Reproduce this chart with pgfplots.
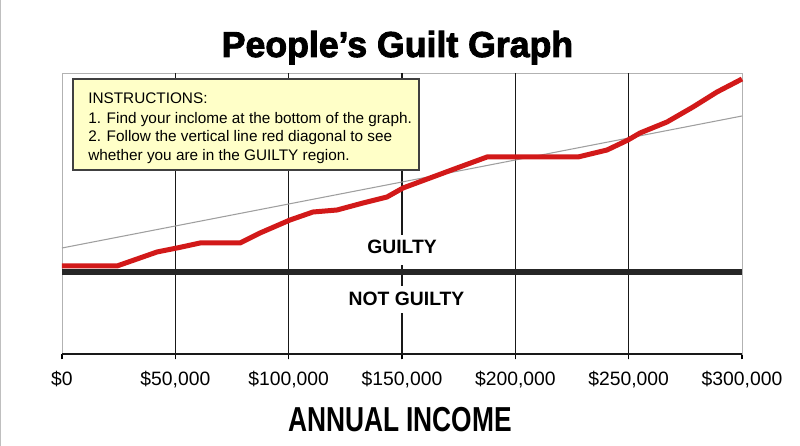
\documentclass[border=0pt]{standalone}
\usepackage{fontspec}
\setmainfont{Liberation Sans}
\newfontfamily\titlefont[FakeBold=2.5]{Liberation Sans Bold}
\usepackage{pgfplots}
\pgfplotsset{compat=1.18}
\definecolor{redline}{RGB}{210,25,25}
\definecolor{boxfill}{RGB}{255,255,200}
\begin{document}
\begin{tikzpicture}
\path[use as bounding box] (-46.5pt,-69pt) rectangle (553.5pt,265.5pt);
\draw[gray!50, line width=0.8pt] (-46.1pt,-69pt) -- (-46.1pt,265.5pt);
\begin{axis}[
  scale only axis, width=510pt, height=210.75pt,
  xmin=0, xmax=300000, ymin=92, ymax=373,
  axis line style={draw=gray!60, line width=0.7pt},
  xtick={0,50000,100000,150000,200000,250000,300000},
  xticklabels={\$0,{\$50,000},{\$100,000},{\$150,000},{\$200,000},{\$250,000},{\$300,000}},
  ytick=\empty,
  scaled x ticks=false,
  tick align=outside, xtick pos=left,
  major tick length=4pt,
  tick style={black, line width=0.9pt},
  extra x ticks={50000,100000,150000,200000,250000},
  extra x tick labels={},
  extra x tick style={grid=major},
  major grid style={black!90, line width=1.1pt},
  xticklabel style={font=\fontsize{14.5}{16}\selectfont, anchor=base, yshift=-20pt},
  clip=false,
]
\draw[black!90, line width=1.2pt] (axis cs:0,92) -- (axis cs:300000,92);
\addplot[gray!75, line width=0.8pt] coordinates {(0,198) (300000,330)};
\addplot[black!85, line width=4.5pt] coordinates {(0,173.5) (300000,173.5)};
\addplot[redline, line width=3.75pt] coordinates {
(0,180) (24265,180) (41912,194) (50735,198) (60882,203) (78529,203)
(87353,213) (100588,226) (110735,234) (121324,236) (132794,243)
(143382,249) (150441,258) (162353,268) (174265,278) (187500,289)
(227647,289) (240441,296) (249706,306) (255000,313) (266912,324)
(278382,339) (288971,354) (300000,367)};
\node[anchor=base, fill=white, inner xsep=2pt, inner ysep=3.75pt, text depth=4.5pt,
  font=\bfseries\fontsize{14.5}{16}\selectfont] at (axis cs:150000,192) {GUILTY};
\node[anchor=base, fill=white, inner xsep=2pt, inner ysep=5pt,
  font=\bfseries\fontsize{14.5}{16}\selectfont] at (axis cs:152000,140) {NOT GUILTY};
\end{axis}
\draw[black!75, line width=0.8pt, fill=boxfill] (8.25pt,138pt) rectangle (267.75pt,206.25pt);
\node[anchor=base west, inner sep=0pt, font=\fontsize{11.5}{13}\selectfont] at (19.5pt,187.5pt) {INSTRUCTIONS:};
\node[anchor=base west, inner sep=0pt, font=\fontsize{11.5}{13}\selectfont] at (19.5pt,172.5pt) {1. Find your inclome at the bottom of the graph.};
\node[anchor=base west, inner sep=0pt, font=\fontsize{11.5}{13}\selectfont] at (19.5pt,159pt) {2. Follow the vertical line red diagonal to see};
\node[anchor=base west, inner sep=0pt, font=\fontsize{11.5}{13}\selectfont] at (19.5pt,144.75pt) {whether you are in the GUILTY region.};
\node[anchor=base] at (251.6pt,222.75pt) {\scalebox{1.07}[1.08]{\titlefont\fontsize{25}{30}\selectfont People’s Guilt Graph}};
\node[anchor=base] at (253.5pt,-58.5pt) {\scalebox{0.76}[1]{\bfseries\fontsize{26}{30}\selectfont ANNUAL INCOME}};
\end{tikzpicture}
\end{document}
